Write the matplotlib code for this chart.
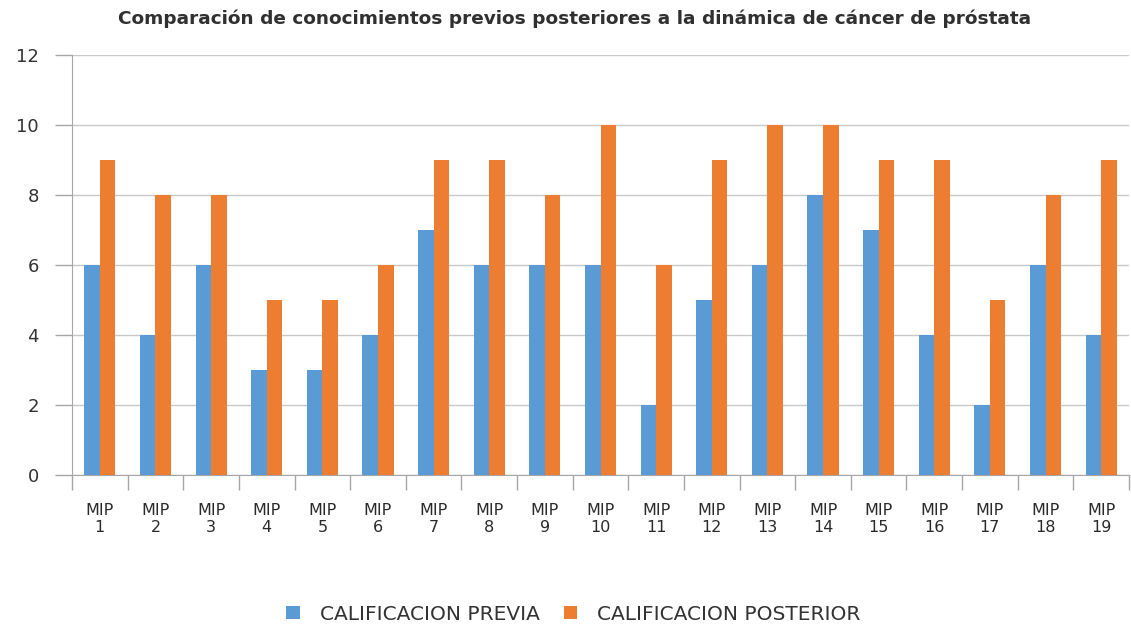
import matplotlib
matplotlib.use("Agg")
import matplotlib.pyplot as plt
import numpy as np

categories = [f"MIP\n{i}" for i in range(1, 20)]
previa = [6, 4, 6, 3, 3, 4, 7, 6, 6, 6, 2, 5, 6, 8, 7, 4, 2, 6, 4]
posterior = [9, 8, 8, 5, 5, 6, 9, 9, 8, 10, 6, 9, 10, 10, 9, 9, 5, 8, 9]
yticks = [0, 2, 4, 6, 8, 10, 12]

plt.rcParams['font.family'] = ['DejaVu Sans']

fig = plt.figure(figsize=(11.31, 6.28), dpi=100)
ax = fig.add_axes([0.0637, 0.2436, 0.9345, 0.6688])

x = np.arange(len(categories))
w = 0.28
ax.bar(x - w/2, previa, w, color='#5B9BD5', label='CALIFICACION PREVIA', zorder=3)
ax.bar(x + w/2, posterior, w, color='#ED7D31', label='CALIFICACION POSTERIOR', zorder=3)

grey = '#A6A6A6'
ax.set_xlim(-0.5, len(categories) - 0.5)
ax.set_ylim(0, 12)
ax.set_yticks(yticks)
ax.set_yticklabels([str(v) for v in yticks], fontsize=13, color='#333333')
ax.yaxis.grid(True, color='#C8C8C8', linewidth=1, zorder=0)
ax.tick_params(axis='y', length=12, width=1, color=grey, pad=12)

ax.set_xticks(x)
ax.set_xticklabels(categories, fontsize=11.5, color='#2a2a2a', linespacing=1.2)
ax.set_xticks(np.arange(-0.5, len(categories), 1), minor=True)
ax.tick_params(axis='x', which='major', length=0, pad=20)
ax.tick_params(axis='x', which='minor', length=11, color=grey, width=1)

for s in ['top', 'right']:
    ax.spines[s].set_visible(False)
ax.spines['bottom'].set_color(grey)
ax.spines['left'].set_color(grey)

fig.text(0.508, 0.970, 'Comparación de conocimientos previos posteriores a la dinámica de cáncer de próstata',
         ha='center', va='center', fontsize=13.3, fontweight='bold', color='#303030')

fig.legend(loc='center', bbox_to_anchor=(0.507, 0.022), ncol=2, frameon=False,
           fontsize=14.5, handlelength=0.65, handleheight=0.65, columnspacing=1.2,
           handletextpad=1.0, labelcolor='#333333')

fig.savefig('out.png', dpi=100)
